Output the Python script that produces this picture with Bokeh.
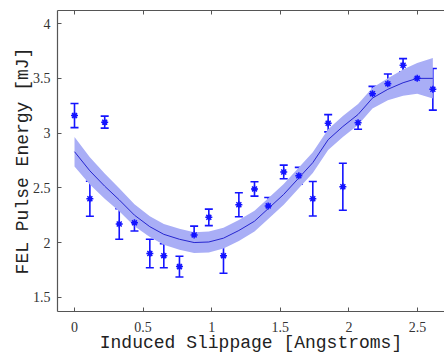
from bokeh.plotting import figure
from bokeh.models import ColumnDataSource, Whisker, TeeHead, LinearAxis, FixedTicker, Range1d
from bokeh.embed import file_html
from bokeh.resources import INLINE

# measured data
x_vals = [0.0, 0.112, 0.22, 0.326, 0.437, 0.549, 0.651, 0.765, 0.872, 0.979,
          1.086, 1.198, 1.312, 1.412, 1.525, 1.635, 1.737, 1.849, 1.956, 2.067,
          2.172, 2.284, 2.395, 2.498, 2.612]
y_vals = [3.16, 2.40, 3.10, 2.17, 2.18, 1.90, 1.88, 1.78, 2.07, 2.23,
          1.88, 2.345, 2.49, 2.335, 2.645, 2.61, 2.40, 3.09, 2.51, 3.095,
          3.36, 3.45, 3.62, 3.50, 3.40]
y_err = [0.11, 0.16, 0.055, 0.14, 0.075, 0.13, 0.11, 0.095, 0.08, 0.075,
         0.16, 0.11, 0.066, 0.077, 0.062, 0.077, 0.158, 0.079, 0.215, 0.06,
         0.067, 0.09, 0.06, 0.11, 0.19]

# smoothed fit and its confidence half-width
fit_x = [0.0, 0.112, 0.22, 0.326, 0.437, 0.549, 0.651, 0.765, 0.872, 0.979,
         1.086, 1.198, 1.312, 1.412, 1.525, 1.635, 1.737, 1.849, 1.956, 2.067,
         2.172, 2.284, 2.395, 2.498, 2.612]
fit_y = [2.83, 2.655, 2.515, 2.39, 2.25, 2.145, 2.075, 2.03, 2.0, 2.005,
         2.04, 2.11, 2.195, 2.31, 2.44, 2.59, 2.73, 2.94, 3.06, 3.17,
         3.32, 3.40, 3.46, 3.50, 3.50]
fit_hw = [0.135, 0.125, 0.115, 0.105, 0.10, 0.095, 0.095, 0.095, 0.095, 0.095,
          0.095, 0.095, 0.095, 0.095, 0.095, 0.095, 0.095, 0.095, 0.095, 0.095,
          0.095, 0.10, 0.12, 0.14, 0.185]

x_ticks = [0, 0.5, 1, 1.5, 2, 2.5]
x_tick_labels = ["0", "0.5", "1", "1.5", "2", "2.5"]
y_ticks = [1.5, 2, 2.5, 3, 3.5, 4]
y_tick_labels = ["1.5", "2", "2.5", "3", "3.5", "4"]

pts = ColumnDataSource(dict(
    x=x_vals, y=y_vals,
    upper=[y + e for y, e in zip(y_vals, y_err)],
    lower=[y - e for y, e in zip(y_vals, y_err)],
))
fit = ColumnDataSource(dict(
    x=fit_x, y=fit_y,
    lo=[y - h for y, h in zip(fit_y, fit_hw)],
    hi=[y + h for y, h in zip(fit_y, fit_hw)],
))

p = figure(width=444, height=355, output_backend="svg", toolbar_location=None,
           x_range=Range1d(-0.124, 2.697), y_range=Range1d(1.37, 4.12),
           min_border_left=57, min_border_right=0, min_border_top=10, min_border_bottom=10)
p.outline_line_color = None
p.grid.visible = False
p.background_fill_color = "white"
p.border_fill_color = "white"

blue = "#1414ff"
p.varea(x="x", y1="lo", y2="hi", source=fit, fill_color="#a9aef6", fill_alpha=1.0)
p.line(x="x", y="y", source=fit, line_color="#2626d0", line_width=1.0)

wh = Whisker(base="x", upper="upper", lower="lower", source=pts,
             line_color=blue, line_width=1.6,
             upper_head=TeeHead(size=8, line_color=blue, line_width=1.6),
             lower_head=TeeHead(size=8, line_color=blue, line_width=1.6))
p.add_layout(wh)
p.scatter(x="x", y="y", source=pts, marker="asterisk", size=7, line_color=blue, line_width=1.5)
p.scatter(x="x", y="y", source=pts, marker="circle", size=3.5, fill_color=blue, line_color=blue)

tick_font = "Liberation Serif"
label_font = "Liberation Mono"
axcol = "#555555"

for ax in (p.xaxis[0], p.yaxis[0]):
    ax.axis_line_color = axcol
    ax.axis_line_width = 1.2
    ax.major_tick_line_color = axcol
    ax.major_tick_in = 4
    ax.major_tick_out = 0
    ax.minor_tick_line_color = None
    ax.major_label_text_font = tick_font
    ax.major_label_text_font_size = "14px"
    ax.major_label_text_color = "#333333"
    ax.axis_label_text_font = label_font
    ax.axis_label_text_font_size = "18px"
    ax.axis_label_text_font_style = "normal"
    ax.axis_label_text_color = "#222222"

p.xaxis[0].ticker = FixedTicker(ticks=x_ticks)
p.xaxis[0].major_label_overrides = dict(zip(x_ticks, x_tick_labels))
p.yaxis[0].ticker = FixedTicker(ticks=y_ticks)
p.yaxis[0].major_label_overrides = dict(zip(y_ticks, y_tick_labels))
p.xaxis[0].axis_label = "Induced Slippage [Angstroms]"
p.yaxis[0].axis_label = "FEL Pulse Energy [mJ]"
p.xaxis[0].major_label_standoff = 10
p.xaxis[0].axis_label_standoff = -2
p.yaxis[0].major_label_standoff = 7
p.yaxis[0].axis_label_standoff = -3

# top frame line with inward ticks, no labels
top = LinearAxis(ticker=FixedTicker(ticks=x_ticks))
top.axis_line_color = axcol
top.axis_line_width = 1.2
top.major_tick_line_color = axcol
top.major_tick_in = 4
top.major_tick_out = 0
top.minor_tick_line_color = None
top.major_label_overrides = {t: "" for t in x_ticks}
top.major_label_text_font_size = "0px"
top.major_label_text_color = None
top.major_label_standoff = 0
p.add_layout(top, "above")

open("out.html", "w").write(file_html(p, INLINE))
